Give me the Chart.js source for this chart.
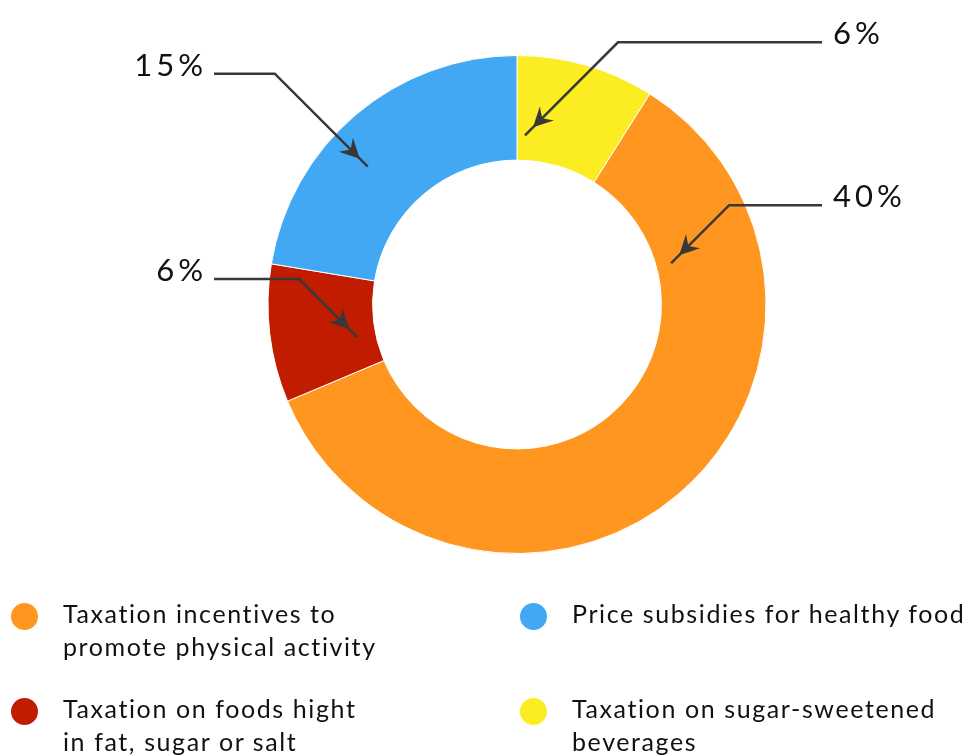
<!DOCTYPE html>
<html>
<head>
<meta charset="utf-8">
<script src="https://cdn.jsdelivr.net/npm/chart.js@4.4.1/dist/chart.umd.min.js"></script>
<style>
  html, body { margin: 0; padding: 0; background: #fff; }
  body { width: 968px; height: 756px; position: relative; overflow: hidden; font-family: Lato, sans-serif; }
  #wrap { position: absolute; left: 0; top: 0; width: 968px; height: 608px; }
  #legend { position: absolute; left: 0; top: 0; width: 968px; height: 756px; pointer-events: none; }
  .item { position: absolute; }
  .dot { position: absolute; left: 11px; top: 6px; width: 27px; height: 27px; border-radius: 50%; }
  .txt { position: absolute; left: 63px; top: 0; font-size: 25px; line-height: 32.5px; color: #111; white-space: nowrap; letter-spacing: 1.6px; }
</style>
</head>
<body>
<div id="wrap"><canvas id="donut"></canvas></div>
<div id="legend"></div>
<script>
// slices in drawing order, clockwise from 12 o'clock
const categories = [
  ['Taxation on sugar-sweetened', 'beverages'],
  ['Taxation incentives to', 'promote physical activity'],
  ['Taxation on foods hight', 'in fat, sugar or salt'],
  ['Price subsidies for healthy food']
];
const values = [6, 40, 6, 15];
const colors = ['#fcec22', '#ff9620', '#c11b00', '#42a8f4'];
const legendOrder = [1, 3, 2, 0];

// where each callout arrow lands inside its slice (fraction of the angle / ring width)
const callouts = [
  { along: 0.16, depth: 0.32, leg: 85, side: 1 },
  { along: 0.19, depth: 0.24, leg: 50, side: 1 },
  { along: 0.45, depth: 0.24, leg: 50, side: -1 },
  { along: 0.415, depth: 0.67, leg: 85, side: -1 }
];

function arrowHead(ctx, x, y, ang) {
  const len = 22, spread = 0.47, notch = 13;
  ctx.beginPath();
  ctx.moveTo(x, y);
  ctx.lineTo(x - len * Math.cos(ang - spread), y - len * Math.sin(ang - spread));
  ctx.lineTo(x - notch * Math.cos(ang), y - notch * Math.sin(ang));
  ctx.lineTo(x - len * Math.cos(ang + spread), y - len * Math.sin(ang + spread));
  ctx.closePath();
  ctx.fill();
}

const calloutPlugin = {
  id: 'callouts',
  afterDatasetsDraw(chart) {
    const ctx = chart.ctx;
    const arcs = chart.getDatasetMeta(0).data;
    ctx.save();
    ctx.lineWidth = 2.5;
    arcs.forEach((arc, i) => {
      const c = callouts[i];
      const p = arc.getProps(['x', 'y', 'startAngle', 'endAngle', 'innerRadius', 'outerRadius']);
      const a = p.startAngle + c.along * (p.endAngle - p.startAngle);
      const r = p.innerRadius + c.depth * (p.outerRadius - p.innerRadius);
      const tx = p.x + r * Math.cos(a), ty = p.y + r * Math.sin(a);
      const ex = tx + c.side * c.leg, ey = ty - c.leg;
      const endX = p.x + c.side * (c.side > 0 ? 305 : 303);
      ctx.strokeStyle = '#383838';
      ctx.fillStyle = '#383838';
      ctx.beginPath();
      ctx.moveTo(endX, ey);
      ctx.lineTo(ex, ey);
      ctx.lineTo(tx - c.side * 8, ty + 8);
      ctx.stroke();
      arrowHead(ctx, tx, ty, Math.atan2(ty - ey, tx - ex));
      const sp = 4;
      ctx.font = '31px Lato, sans-serif';
      ctx.letterSpacing = sp + 'px';
      ctx.fillStyle = '#111';
      ctx.textBaseline = 'alphabetic';
      ctx.textAlign = c.side > 0 ? 'left' : 'right';
      ctx.fillText(values[i] + '%', endX + c.side * 11 + (c.side > 0 ? 0 : sp), ey + 2);
      ctx.letterSpacing = '0px';
    });
    ctx.restore();
  }
};

new Chart(document.getElementById('donut'), {
  type: 'doughnut',
  data: {
    labels: categories.map(l => l.join(' ')),
    datasets: [{
      data: values,
      backgroundColor: colors,
      borderColor: '#ffffff',
      borderWidth: 1
    }]
  },
  options: {
    responsive: true,
    maintainAspectRatio: false,
    animation: false,
    radius: 249,
    cutout: '58%',
    layout: { padding: { left: 66, right: 0, top: 1, bottom: 0 } },
    plugins: {
      legend: { display: false },
      tooltip: { enabled: false }
    }
  },
  plugins: [calloutPlugin]
});

// legend, two columns
const legend = document.getElementById('legend');
legendOrder.forEach((idx, k) => {
  const item = document.createElement('div');
  item.className = 'item';
  item.style.left = (k % 2 ? 509 : 0) + 'px';
  item.style.top = (k < 2 ? 597 : 692) + 'px';
  const dot = document.createElement('div');
  dot.className = 'dot';
  dot.style.background = colors[idx];
  const txt = document.createElement('div');
  txt.className = 'txt';
  txt.innerHTML = categories[idx].join('<br>');
  item.appendChild(dot);
  item.appendChild(txt);
  legend.appendChild(item);
});
</script>
</body>
</html>
